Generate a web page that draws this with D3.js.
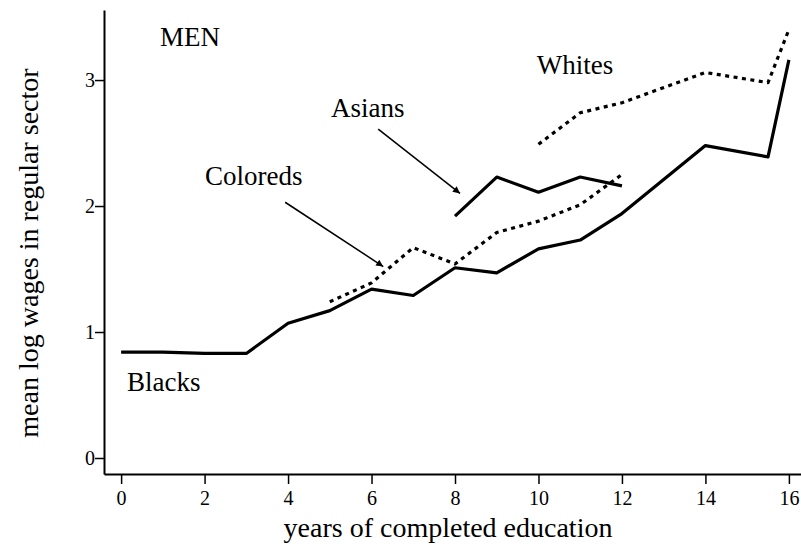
<!DOCTYPE html>
<html><head><meta charset="utf-8">
<script src="https://cdn.jsdelivr.net/npm/d3@7"></script>
<style>body{margin:0;background:#fff}svg{display:block}text{font-family:"Liberation Serif","Times New Roman",serif;fill:#000}</style>
</head><body><svg id="c" width="801" height="546"></svg>
<script>
const xTicks = [0,2,4,6,8,10,12,14,16];
const yTicks = [0,1,2,3];
const blacksX = [0,1,2,3,4,5,6,7,8,9,10,11,12,14,15.5,16];
const blacksY = [0.84,0.84,0.83,0.83,1.07,1.17,1.34,1.29,1.51,1.47,1.66,1.73,1.94,2.48,2.39,3.16];
const whitesX = [10,11,12,14,15.5,16];
const whitesY = [2.49,2.74,2.82,3.06,2.98,3.40];
const coloredsX = [5,6,7,8,9,10,11,12];
const coloredsY = [1.24,1.39,1.67,1.54,1.79,1.88,2.01,2.25];
const asiansX = [8,9,10,11,12];
const asiansY = [1.92,2.23,2.11,2.23,2.16];
const labels = [
  {t:"MEN", x:0.93, y:3.27},
  {t:"Whites", x:9.96, y:3.05},
  {t:"Asians", x:5.03, y:2.71},
  {t:"Coloreds", x:2.01, y:2.17},
  {t:"Blacks", x:0.14, y:0.53}
];
const arrows = [
  {x1:6.16, y1:2.61, x2:8.12, y2:2.10},
  {x1:3.93, y1:2.03, x2:6.28, y2:1.52}
];

const svg = d3.select("#c");
const x = d3.scaleLinear().domain([-0.41, 16.29]).range([104, 801]);
const y = d3.scaleLinear().domain([-0.127, 3.556]).range([474, 10]);

// axes
const xa = svg.append("g").attr("transform","translate(0,474)")
  .call(d3.axisBottom(x).tickValues(xTicks).tickFormat(d3.format("d")).tickSize(10).tickPadding(7).tickSizeOuter(0));
const ya = svg.append("g").attr("transform","translate(104,0)")
  .call(d3.axisLeft(y).tickValues(yTicks).tickFormat(d3.format("d")).tickSize(9).tickPadding(0).tickSizeOuter(0));
[xa,ya].forEach(g=>{
  g.attr("font-family","Liberation Serif").attr("font-size",20);
  g.select(".domain").attr("stroke","#000").attr("stroke-width",2);
  g.selectAll(".tick line").attr("stroke","#000").attr("stroke-width",1.5);
  g.selectAll(".tick text").style("font-family","Liberation Serif").style("font-size","20px").attr("fill","#000");
});

const line = d3.line().x(d=>x(d[0])).y(d=>y(d[1]));
function series(xs, ys, dotted){
  const p = svg.append("path").datum(xs.map((v,i)=>[v, ys[i]]))
    .attr("d", line).attr("fill","none").attr("stroke","#000")
    .attr("stroke-linejoin","round");
  if(dotted) p.attr("stroke-width",3.2).attr("stroke-dasharray","4,4.5");
  else p.attr("stroke-width",3.2);
}
series(blacksX, blacksY, false);
series(asiansX, asiansY, false);
series(whitesX, whitesY, true);
series(coloredsX, coloredsY, true);

// arrows
svg.append("defs").append("marker").attr("id","ah").attr("viewBox","0 0 10 10")
  .attr("refX",10).attr("refY",5).attr("markerWidth",9).attr("markerHeight",7)
  .attr("markerUnits","userSpaceOnUse").attr("orient","auto")
  .append("path").attr("d","M0,0L10,5L0,10Z").attr("fill","#000");
svg.selectAll(".arr").data(arrows).enter().append("line")
  .attr("x1",d=>x(d.x1)).attr("y1",d=>y(d.y1)).attr("x2",d=>x(d.x2)).attr("y2",d=>y(d.y2))
  .attr("stroke","#000").attr("stroke-width",1.5).attr("marker-end","url(#ah)");

svg.selectAll(".lab").data(labels).enter().append("text")
  .attr("x",d=>x(d.x)).attr("y",d=>y(d.y)).style("font-size","27px").text(d=>d.t);

svg.append("text").attr("x",448).attr("y",537).attr("text-anchor","middle")
  .style("font-size","28px").text("years of completed education");
svg.append("text").attr("transform","translate(38,253) rotate(-90)").attr("text-anchor","middle")
  .style("font-size","28px").text("mean log wages in regular sector");
</script></body></html>
